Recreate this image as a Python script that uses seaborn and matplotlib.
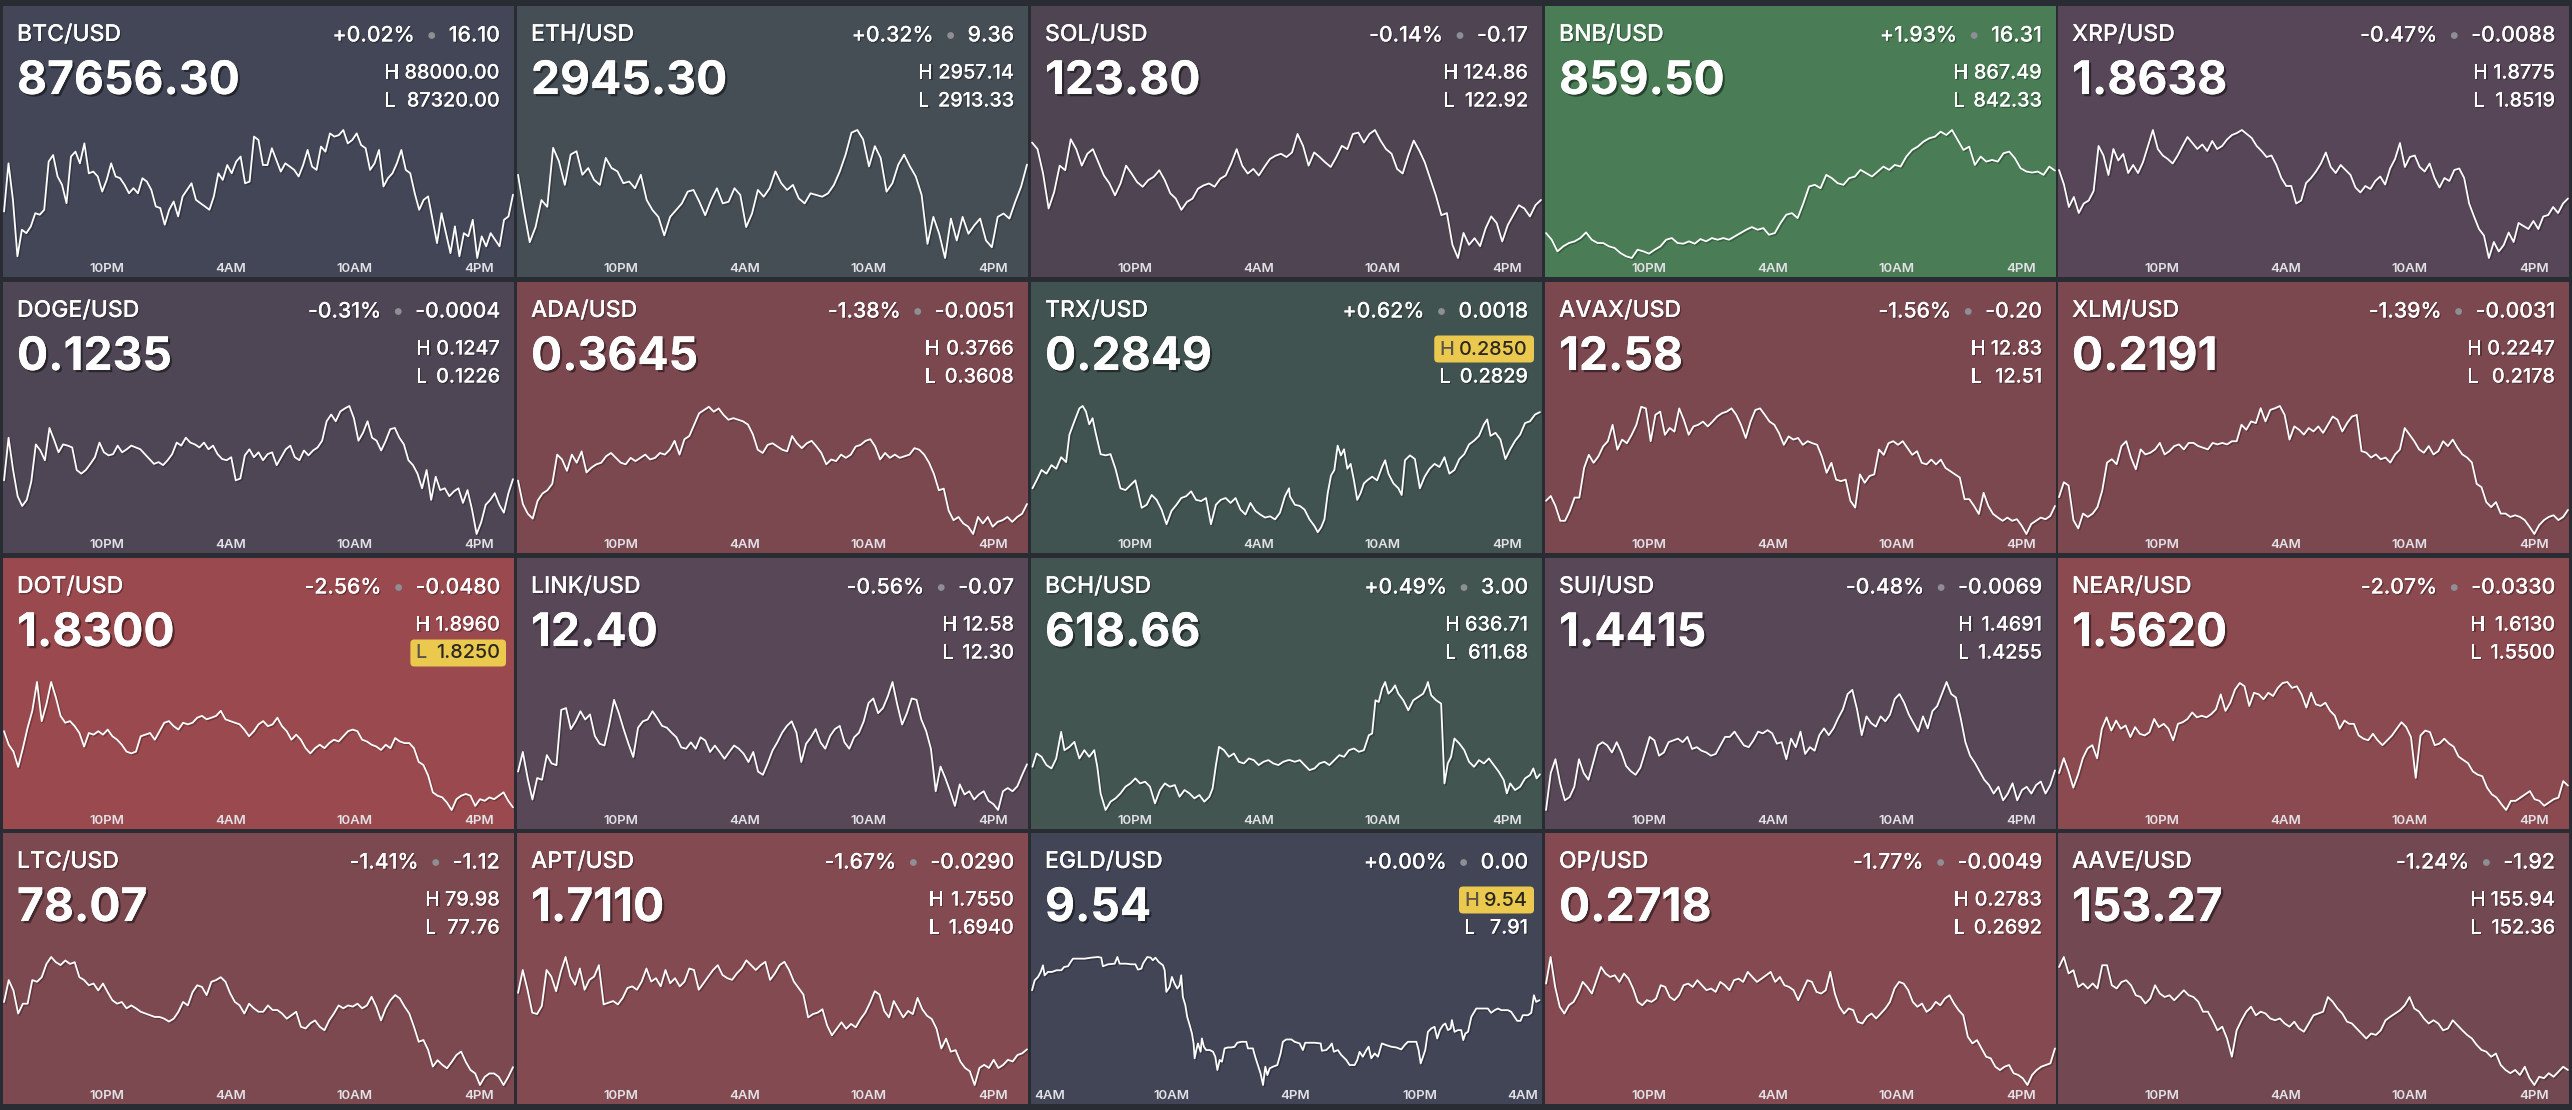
import numpy as np
import pandas as pd
import matplotlib
matplotlib.use("Agg")
import matplotlib.pyplot as plt
import seaborn as sns
from matplotlib import patheffects as pe
from matplotlib.patches import FancyBboxPatch, Circle
from matplotlib.transforms import Affine2D

# ---------------- data ----------------
pairs = ["BTC/USD", "ETH/USD", "SOL/USD", "BNB/USD", "XRP/USD",
         "DOGE/USD", "ADA/USD", "TRX/USD", "AVAX/USD", "XLM/USD",
         "DOT/USD", "LINK/USD", "BCH/USD", "SUI/USD", "NEAR/USD",
         "LTC/USD", "APT/USD", "EGLD/USD", "OP/USD", "AAVE/USD"]
last_prices = ["87656.30", "2945.30", "123.80", "859.50", "1.8638",
               "0.1235", "0.3645", "0.2849", "12.58", "0.2191",
               "1.8300", "12.40", "618.66", "1.4415", "1.5620",
               "78.07", "1.7110", "9.54", "0.2718", "153.27"]
pct_changes = ["+0.02%", "+0.32%", "-0.14%", "+1.93%", "-0.47%",
               "-0.31%", "-1.38%", "+0.62%", "-1.56%", "-1.39%",
               "-2.56%", "-0.56%", "+0.49%", "-0.48%", "-2.07%",
               "-1.41%", "-1.67%", "+0.00%", "-1.77%", "-1.24%"]
abs_changes = ["16.10", "9.36", "-0.17", "16.31", "-0.0088",
               "-0.0004", "-0.0051", "0.0018", "-0.20", "-0.0031",
               "-0.0480", "-0.07", "3.00", "-0.0069", "-0.0330",
               "-1.12", "-0.0290", "0.00", "-0.0049", "-1.92"]
highs = ["88000.00", "2957.14", "124.86", "867.49", "1.8775",
         "0.1247", "0.3766", "0.2850", "12.83", "0.2247",
         "1.8960", "12.58", "636.71", "1.4691", "1.6130",
         "79.98", "1.7550", "9.54", "0.2783", "155.94"]
lows = ["87320.00", "2913.33", "122.92", "842.33", "1.8519",
        "0.1226", "0.3608", "0.2829", "12.51", "0.2178",
        "1.8250", "12.30", "611.68", "1.4255", "1.5500",
        "77.76", "1.6940", "7.91", "0.2692", "152.36"]

tick_hours_std = [22, 28, 34, 40]
tick_labels_std = ["10PM", "4AM", "10AM", "4PM"]
tick_hours_egld = [4, 10, 16, 22, 28]
tick_labels_egld = ["4AM", "10AM", "4PM", "10PM", "4AM"]
window_std = (16.97, 41.7)
window_egld = (3.2, 27.93)

btc = [87567, 87823, 87629, 87329, 87470, 87452, 87488, 87558, 87550, 87576, 87832, 87867, 87753, 87709,
       87611, 87859, 87885, 87823, 87929, 87770, 87779, 87753, 87673, 87735, 87823, 87753, 87744, 87709,
       87664, 87691, 87664, 87744, 87726, 87682, 87594, 87585, 87497, 87576, 87620, 87541, 87647, 87682,
       87717, 87629, 87611, 87594, 87576, 87647, 87770, 87735, 87814, 87770, 87832, 87859, 87717, 87726,
       87965, 87947, 87814, 87814, 87903, 87841, 87779, 87823, 87806, 87788, 87753, 87814, 87894, 87806,
       87788, 87912, 87885, 87982, 87965, 87973, 88000, 87929, 87947, 87982, 87920, 87903, 87788, 87823,
       87894, 87700, 87744, 87770, 87823, 87894, 87788, 87770, 87664, 87576, 87629, 87647, 87523, 87399,
       87558, 87452, 87346, 87488, 87329, 87452, 87435, 87523, 87320, 87435, 87382, 87452, 87417, 87382,
       87523, 87541, 87656.3]
eth = [2941.81, 2929.70, 2918.75, 2923.94, 2933.16, 2930.86, 2951.03, 2946.42, 2938.35, 2948.73, 2949.88,
       2941.81, 2944.12, 2940.08, 2938.35, 2947.57, 2944.12, 2942.96, 2938.93, 2939.50, 2937.20, 2941.81,
       2933.16, 2929.70, 2927.40, 2921.06, 2927.40, 2929.70, 2932.01, 2936.04, 2936.62, 2932.59, 2927.97,
       2933.16, 2937.20, 2932.01, 2932.59, 2937.20, 2934.89, 2923.94, 2928.55, 2936.62, 2934.31, 2937.20,
       2942.96, 2938.93, 2936.62, 2938.35, 2933.74, 2932.01, 2935.47, 2934.89, 2934.31, 2935.47, 2938.35,
       2942.96, 2948.73, 2956.22, 2957.14, 2953.92, 2944.69, 2951.61, 2947.57, 2936.04, 2938.93, 2945.27,
       2948.73, 2944.69, 2941.23, 2934.89, 2918.17, 2927.40, 2921.63, 2913.33, 2926.82, 2919.33, 2927.40,
       2921.63, 2924.51, 2926.82, 2919.33, 2917.02, 2927.40, 2928.55, 2926.82, 2932.59, 2937.77, 2945.30]
sol = [124.67, 124.57, 124.20, 123.67, 123.92, 124.32, 124.25, 124.72, 124.57, 124.32, 124.50, 124.57,
       124.37, 124.17, 124.05, 123.87, 124.05, 124.32, 124.20, 124.07, 124.00, 124.10, 124.15, 124.25,
       124.10, 123.90, 123.82, 123.65, 123.77, 123.82, 123.97, 124.02, 124.05, 124.00, 124.12, 124.17,
       124.35, 124.57, 124.32, 124.20, 124.27, 124.17, 124.30, 124.42, 124.47, 124.50,
       124.45, 124.52, 124.80, 124.62, 124.32, 124.52, 124.45, 124.37, 124.30, 124.45, 124.62, 124.57,
       124.80, 124.82, 124.67, 124.80, 124.86, 124.70, 124.57, 124.50, 124.27, 124.20, 124.47, 124.70,
       124.55, 124.37, 124.12, 123.87, 123.57, 123.60, 123.12, 122.92, 123.30, 123.12, 123.22, 123.10,
       123.37, 123.55, 123.45, 123.17, 123.42, 123.57, 123.72, 123.67, 123.55, 123.72, 123.80]
bnb = [847.23, 845.92, 843.64, 844.62, 845.27, 845.60, 846.25, 847.36, 845.92, 845.27, 845.27, 844.62,
       844.29, 843.31, 842.66, 842.33, 843.96, 843.64, 843.18, 843.96, 844.62, 845.92, 846.25, 845.27,
       845.14, 845.60, 845.14, 846.05, 845.60, 846.25, 845.92, 846.25, 845.92, 846.58, 847.23, 847.88,
       848.41, 847.88, 848.21, 846.90, 847.23, 849.19, 850.83, 851.15, 850.17, 853.11, 856.38, 856.71,
       856.05, 858.67, 858.01, 857.03, 856.71, 858.01, 858.34, 859.65, 858.99, 858.34, 859.32, 860.30,
       859.65, 860.63, 860.30, 862.26, 863.57, 864.22, 865.20, 865.86, 866.18, 867.16, 866.51, 867.49,
       865.53, 863.57, 864.22, 860.63, 862.26, 861.28, 861.61, 861.28, 862.92, 863.24, 861.94, 859.97,
       859.32, 859.12, 859.32, 858.67, 860.30, 859.50]
xrp = [1.8695, 1.8666, 1.8621, 1.8641, 1.8609, 1.8628, 1.8634, 1.8653, 1.8743, 1.8724, 1.8685, 1.8737,
       1.8714, 1.8727, 1.8689, 1.8705, 1.8689, 1.8711, 1.8743, 1.8775, 1.8737, 1.8724, 1.8717, 1.8708,
       1.8724, 1.8743, 1.8761, 1.8749, 1.8737, 1.8746, 1.8733, 1.8753, 1.8737, 1.8743, 1.8756, 1.8765,
       1.8769, 1.8775, 1.8767, 1.8759, 1.8743, 1.8733, 1.8721, 1.8724, 1.8705, 1.8679, 1.8663, 1.8663,
       1.8628, 1.8634, 1.8669, 1.8679, 1.8692, 1.8708, 1.8730, 1.8701, 1.8689, 1.8705, 1.8695, 1.8685,
       1.8660, 1.8650, 1.8663, 1.8657, 1.8673, 1.8682, 1.8666, 1.8698, 1.8717, 1.8749, 1.8701, 1.8721,
       1.8724, 1.8701, 1.8692, 1.8708, 1.8679, 1.8660, 1.8679, 1.8673, 1.8695, 1.8698, 1.8679, 1.8628,
       1.8602, 1.8577, 1.8564, 1.8519, 1.8551, 1.8532, 1.8545, 1.8570, 1.8551, 1.8589, 1.8583, 1.8577,
       1.8593, 1.8577, 1.8602, 1.8605, 1.8621, 1.8609, 1.8628, 1.8638]
doge = [0.12348, 0.12418, 0.12365, 0.12322, 0.12306, 0.12316, 0.12346, 0.12407, 0.12397, 0.12381, 0.12434,
        0.12415, 0.12394, 0.12407, 0.12405, 0.12402, 0.12365, 0.12359, 0.12365, 0.12375, 0.12386, 0.12410,
        0.12394, 0.12389, 0.12391, 0.12405, 0.12394, 0.12399, 0.12405, 0.12402, 0.12399, 0.12391, 0.12383,
        0.12375, 0.12378, 0.12373, 0.12381, 0.12391, 0.12410, 0.12405, 0.12418, 0.12410, 0.12407, 0.12402,
        0.12410, 0.12399, 0.12405, 0.12391, 0.12383, 0.12381, 0.12386, 0.12348, 0.12351, 0.12389, 0.12399,
        0.12386, 0.12394, 0.12381, 0.12391, 0.12394, 0.12373, 0.12386, 0.12399, 0.12405, 0.12386, 0.12381,
        0.12397, 0.12389, 0.12397, 0.12402, 0.12413, 0.12445, 0.12456, 0.12445, 0.12461, 0.12466, 0.12470,
        0.12450, 0.12413, 0.12426, 0.12445, 0.12418, 0.12413, 0.12397, 0.12413, 0.12432, 0.12434, 0.12418,
        0.12407, 0.12381, 0.12373, 0.12359, 0.12335, 0.12365, 0.12316, 0.12354, 0.12332, 0.12335, 0.12322,
        0.12330, 0.12335, 0.12311, 0.12332, 0.12300, 0.12260, 0.12279, 0.12308, 0.12316, 0.12327, 0.12308,
        0.12295, 0.12327, 0.12350]
ada = [0.3674, 0.3645, 0.3633, 0.3627, 0.3649, 0.3658, 0.3662, 0.3670, 0.3706, 0.3700, 0.3686, 0.3706,
       0.3696, 0.3710, 0.3684, 0.3690, 0.3694, 0.3696, 0.3704, 0.3708, 0.3702, 0.3696, 0.3694, 0.3702,
       0.3698, 0.3702, 0.3706, 0.3700, 0.3702, 0.3708, 0.3706, 0.3712, 0.3723, 0.3706, 0.3725, 0.3729,
       0.3743, 0.3757, 0.3761, 0.3765, 0.3759, 0.3763, 0.3755, 0.3749, 0.3751, 0.3749, 0.3747, 0.3743,
       0.3731, 0.3712, 0.3708, 0.3718, 0.3720, 0.3716, 0.3712, 0.3710, 0.3729, 0.3720, 0.3714, 0.3720,
       0.3723, 0.3716, 0.3708, 0.3694, 0.3700, 0.3698, 0.3706, 0.3702, 0.3706, 0.3716, 0.3718, 0.3723,
       0.3725, 0.3716, 0.3700, 0.3708, 0.3702, 0.3706, 0.3702, 0.3704, 0.3706, 0.3714, 0.3712, 0.3706,
       0.3696, 0.3682, 0.3662, 0.3664, 0.3637, 0.3625, 0.3629, 0.3621, 0.3617, 0.3608, 0.3629, 0.3621,
       0.3629, 0.3617, 0.3623, 0.3625, 0.3629, 0.3623, 0.3629, 0.3633, 0.3645]
trx_hours = [17.04, 17.24, 17.48, 17.72, 17.96, 18.19, 18.43, 18.67, 18.83, 19.07,
             19.31, 19.47, 19.63, 19.79, 19.95, 20.10, 20.34, 20.58, 20.82, 21.06,
             21.30, 21.54, 21.78, 22.02, 22.17, 22.33, 22.57, 22.81, 23.05, 23.29,
             23.53, 23.77, 24.01, 24.24, 24.48, 24.72, 24.96, 25.20, 25.44, 25.68,
             25.92, 26.15, 26.39, 26.63, 26.87, 27.11, 27.35, 27.59, 27.83, 28.06,
             28.30, 28.54, 28.78, 29.02, 29.26, 29.46,
             29.50, 29.74, 29.98, 30.21, 30.45, 30.69, 30.85, 31.01, 31.17, 31.33,
             31.49, 31.65, 31.81, 31.97, 32.12, 32.28, 32.44, 32.60, 32.76, 32.92,
             33.08, 33.24, 33.48, 33.72, 33.96, 34.11, 34.27, 34.51, 34.75, 34.91,
             35.07, 35.31, 35.55, 35.79, 36.02, 36.26, 36.50, 36.74, 36.98, 37.22,
             37.46, 37.70, 37.94, 38.17, 38.41, 38.65, 38.89, 39.05, 39.21, 39.45,
             39.69, 39.93, 40.16, 40.40, 40.64, 40.88, 41.12, 41.36, 41.60]
trx = [0.28365, 0.28378, 0.28395, 0.28389, 0.28403, 0.28397, 0.28416, 0.28408, 0.28453, 0.28475,
       0.28496, 0.28500, 0.28491, 0.28470, 0.28480, 0.28456, 0.28421, 0.28419, 0.28421, 0.28397,
       0.28365, 0.28362, 0.28370, 0.28378, 0.28357, 0.28333, 0.28338, 0.28354, 0.28346, 0.28330,
       0.28306, 0.28328, 0.28338, 0.28349, 0.28352, 0.28360, 0.28346, 0.28344, 0.28349, 0.28306,
       0.28338, 0.28346, 0.28349, 0.28341, 0.28349, 0.28330, 0.28322, 0.28341, 0.28328, 0.28322,
       0.28317, 0.28319, 0.28314, 0.28325, 0.28352, 0.28365,
       0.28352, 0.28338, 0.28336, 0.28330, 0.28314, 0.28303, 0.28293, 0.28301, 0.28314, 0.28357,
       0.28386, 0.28395, 0.28435, 0.28419, 0.28429, 0.28397, 0.28405, 0.28378, 0.28346, 0.28357,
       0.28373, 0.28378, 0.28384, 0.28378, 0.28400, 0.28411, 0.28389, 0.28373, 0.28365, 0.28354,
       0.28411, 0.28419, 0.28413, 0.28365, 0.28384, 0.28397, 0.28405, 0.28400, 0.28416, 0.28389,
       0.28395, 0.28413, 0.28421, 0.28437, 0.28443, 0.28451, 0.28470, 0.28478, 0.28451, 0.28456,
       0.28445, 0.28413, 0.28429, 0.28443, 0.28453, 0.28472, 0.28475, 0.28486, 0.28490]
avax = [12.593, 12.605, 12.580, 12.543, 12.543, 12.568, 12.601, 12.601, 12.675, 12.708, 12.688, 12.704,
        12.729, 12.742, 12.783, 12.721, 12.746, 12.737, 12.758, 12.783, 12.828, 12.824, 12.742, 12.808,
        12.816, 12.758, 12.775, 12.766, 12.824, 12.795, 12.758, 12.779, 12.783, 12.791, 12.779, 12.791,
        12.804, 12.812, 12.816, 12.824, 12.808, 12.783, 12.750, 12.791, 12.820, 12.824, 12.808, 12.791,
        12.783, 12.762, 12.733, 12.754, 12.746, 12.750, 12.733, 12.742, 12.737, 12.733, 12.704, 12.663,
        12.688, 12.646, 12.642, 12.646, 12.593, 12.576, 12.659, 12.638, 12.655, 12.659, 12.721, 12.708,
        12.737, 12.742, 12.733, 12.742, 12.725, 12.708, 12.717, 12.688, 12.684, 12.696, 12.684, 12.696,
        12.675, 12.667, 12.659, 12.651, 12.597, 12.597, 12.580, 12.560, 12.613, 12.580, 12.560, 12.551,
        12.543, 12.551, 12.543, 12.547, 12.531, 12.510, 12.535, 12.543, 12.551, 12.547, 12.555, 12.580]
xlm = [0.21979, 0.22059, 0.22041, 0.21855, 0.21810, 0.21890, 0.21872, 0.21890, 0.21925, 0.22014, 0.22165,
       0.22183, 0.22156, 0.22254, 0.22280, 0.22192, 0.22129, 0.22236, 0.22209, 0.22218, 0.22236, 0.22271,
       0.22209, 0.22227, 0.22254, 0.22263, 0.22236, 0.22271, 0.22271, 0.22254, 0.22245, 0.22236, 0.22271,
       0.22263, 0.22271, 0.22263, 0.22280, 0.22280, 0.22369, 0.22342, 0.22387, 0.22378, 0.22458, 0.22387,
       0.22449, 0.22458, 0.22470, 0.22422, 0.22289, 0.22360, 0.22342, 0.22316, 0.22351, 0.22333, 0.22360,
       0.22325, 0.22369, 0.22413, 0.22396, 0.22333, 0.22378, 0.22413, 0.22422, 0.22227, 0.22218, 0.22192,
       0.22209, 0.22183, 0.22192, 0.22165, 0.22209, 0.22236, 0.22351, 0.22316, 0.22280, 0.22236, 0.22218,
       0.22254, 0.22209, 0.22227, 0.22280, 0.22254, 0.22289, 0.22245, 0.22209, 0.22192, 0.22165, 0.22050,
       0.22032, 0.21952, 0.21925, 0.21952, 0.21890, 0.21890, 0.21872, 0.21881, 0.21872, 0.21855, 0.21819,
       0.21780, 0.21828, 0.21855, 0.21872, 0.21881, 0.21855, 0.21872, 0.21910]
dot = [1.8687, 1.8612, 1.8574, 1.8489, 1.8593, 1.8706, 1.8800, 1.8960, 1.8743, 1.8837, 1.8960, 1.8875,
       1.8772, 1.8734, 1.8743, 1.8715, 1.8677, 1.8602, 1.8677, 1.8668, 1.8687, 1.8668, 1.8696, 1.8659,
       1.8640, 1.8612, 1.8574, 1.8564, 1.8574, 1.8659, 1.8668, 1.8677, 1.8640, 1.8687, 1.8734, 1.8743,
       1.8715, 1.8696, 1.8734, 1.8725, 1.8734, 1.8762, 1.8772, 1.8753, 1.8762, 1.8772, 1.8800, 1.8753,
       1.8743, 1.8734, 1.8725, 1.8696, 1.8659, 1.8687, 1.8725, 1.8743, 1.8715, 1.8725, 1.8762, 1.8715,
       1.8687, 1.8640, 1.8668, 1.8640, 1.8593, 1.8564, 1.8593, 1.8612, 1.8593, 1.8621, 1.8640, 1.8630,
       1.8659, 1.8687, 1.8696, 1.8687, 1.8640, 1.8630, 1.8612, 1.8602, 1.8583, 1.8612, 1.8593, 1.8649,
       1.8630, 1.8621, 1.8621, 1.8593, 1.8517, 1.8499, 1.8442, 1.8348, 1.8329, 1.8320, 1.8291, 1.8250,
       1.8310, 1.8329, 1.8339, 1.8329, 1.8273, 1.8310, 1.8301, 1.8320, 1.8310, 1.8329, 1.8348, 1.8301,
       1.8265]
link = [12.384, 12.427, 12.370, 12.323, 12.370, 12.366, 12.420, 12.402, 12.398, 12.519, 12.523, 12.477,
        12.494, 12.516, 12.498, 12.509, 12.462, 12.445, 12.441, 12.487, 12.541, 12.512, 12.477, 12.445,
        12.416, 12.480, 12.494, 12.498, 12.516, 12.501, 12.484, 12.480, 12.469, 12.459, 12.437, 12.434,
        12.448, 12.434, 12.459, 12.452, 12.427, 12.441, 12.427, 12.412, 12.427, 12.441, 12.434, 12.423,
        12.405, 12.427, 12.384, 12.377, 12.402, 12.430, 12.448, 12.469, 12.484, 12.494, 12.469, 12.405,
        12.445, 12.459, 12.477, 12.448, 12.434, 12.462, 12.477, 12.484, 12.448, 12.434, 12.459, 12.469,
        12.494, 12.534, 12.544, 12.512, 12.523, 12.548, 12.580, 12.530, 12.487, 12.512, 12.544, 12.541,
        12.498, 12.473, 12.434, 12.341, 12.395, 12.370, 12.341, 12.309, 12.356, 12.334, 12.341, 12.323,
        12.334, 12.341, 12.320, 12.313, 12.300, 12.341, 12.348, 12.341, 12.352, 12.377, 12.400]
bch_hours = [17.04, 17.24, 17.48, 17.72, 17.96, 18.19, 18.43, 18.59, 18.83, 19.07,
             19.31, 19.55, 19.79, 20.03, 20.18, 20.34, 20.58, 20.82, 21.06, 21.30,
             21.54, 21.78, 22.02, 22.25, 22.49, 22.73, 22.97, 23.21, 23.45, 23.69,
             23.93, 24.16, 24.40, 24.64, 24.88, 25.12, 25.36, 25.60, 25.76, 25.92,
             26.07, 26.31, 26.55, 26.79, 27.03, 27.27, 27.51, 27.75, 27.99, 28.22,
             28.46, 28.70, 28.94, 29.18, 29.42,
             29.50, 29.74, 29.98, 30.21, 30.45, 30.69, 30.93, 31.17, 31.41, 31.65,
             31.89, 32.12, 32.36, 32.60, 32.84, 33.08, 33.32, 33.48, 33.64, 33.80,
             33.96, 34.11, 34.27, 34.43, 34.59, 34.75, 34.99, 35.23, 35.47, 35.71,
             35.95, 36.10, 36.18, 36.34, 36.58, 36.82, 36.90, 36.98, 37.14, 37.30,
             37.46, 37.70, 37.94, 38.17, 38.41, 38.65, 38.89, 39.13, 39.37, 39.61,
             39.85, 40.00, 40.16, 40.40, 40.64, 40.88, 41.12, 41.28, 41.44, 41.60]
bch = [620.13, 622.73, 622.08, 620.46, 619.81, 621.76, 626.96, 623.38, 624.03, 625.01,
       621.76, 623.38, 622.08, 623.38, 620.13, 614.93, 611.68, 613.31, 613.96, 614.93,
       616.23, 616.88, 617.86, 616.88, 617.21, 616.23, 612.98, 615.58, 616.88, 616.23,
       616.56, 614.28, 615.58, 614.93, 613.96, 614.61, 613.31, 614.28, 615.91, 620.46,
       624.03, 623.38, 622.08, 622.73, 621.11, 620.78, 621.76, 621.43, 620.46, 621.11,
       621.43, 620.78, 620.46, 621.11, 621.43,
       621.43, 621.11, 621.43, 620.46, 619.48, 619.81, 620.78, 621.11, 620.46, 621.43,
       622.41, 622.08, 623.38, 623.71, 623.06, 623.38, 626.31, 626.63, 633.13, 632.81,
       635.41, 636.71, 634.43, 635.08, 636.06, 634.43, 633.13, 631.18, 633.13, 633.78,
       634.43, 635.73, 636.71, 634.11, 633.13, 632.48, 624.68, 616.88, 620.78, 622.08,
       625.66, 624.68, 623.38, 621.11, 620.13, 621.43, 620.78, 621.76, 620.46, 619.16,
       617.53, 614.93, 616.88, 615.58, 616.23, 617.86, 618.51, 619.81, 617.86, 618.66]
sui = [1.4255, 1.4381, 1.4428, 1.4346, 1.4288, 1.4299, 1.4334, 1.4428, 1.4381, 1.4358, 1.4416, 1.4475,
       1.4486, 1.4475, 1.4451, 1.4486, 1.4451, 1.4405, 1.4387, 1.4375, 1.4399, 1.4451, 1.4504, 1.4492,
       1.4440, 1.4451, 1.4486, 1.4492, 1.4498, 1.4486, 1.4504, 1.4463, 1.4469, 1.4457, 1.4451, 1.4440,
       1.4446, 1.4475, 1.4504, 1.4504, 1.4522, 1.4498, 1.4475, 1.4469, 1.4492, 1.4522, 1.4516, 1.4527,
       1.4516, 1.4481, 1.4486, 1.4428, 1.4498, 1.4469, 1.4522, 1.4446, 1.4469, 1.4457, 1.4510, 1.4533,
       1.4510, 1.4533, 1.4568, 1.4598, 1.4650, 1.4664, 1.4598, 1.4510, 1.4574, 1.4551, 1.4539, 1.4574,
       1.4557, 1.4580, 1.4633, 1.4650, 1.4621, 1.4580, 1.4551, 1.4522, 1.4574, 1.4533, 1.4592, 1.4609,
       1.4650, 1.4691, 1.4650, 1.4638, 1.4568, 1.4486, 1.4440, 1.4416, 1.4387, 1.4358, 1.4340, 1.4311,
       1.4334, 1.4288, 1.4311, 1.4346, 1.4288, 1.4323, 1.4334, 1.4311, 1.4340, 1.4352, 1.4311, 1.4340,
       1.4390]
near = [1.5682, 1.5755, 1.5690, 1.5610, 1.5674, 1.5755, 1.5803, 1.5819, 1.5755, 1.5900, 1.5956, 1.5891,
        1.5940, 1.5900, 1.5916, 1.5859, 1.5908, 1.5875, 1.5867, 1.5883, 1.5948, 1.5908, 1.5924, 1.5900,
        1.5843, 1.5924, 1.5932, 1.5948, 1.5980, 1.5956, 1.5964, 1.5956, 1.5972, 1.5996, 1.6069, 1.5988,
        1.6028, 1.6093, 1.6125, 1.6109, 1.6012, 1.6077, 1.6069, 1.6045, 1.6077, 1.6061, 1.6101, 1.6125,
        1.6130, 1.6101, 1.6109, 1.6069, 1.6004, 1.6077, 1.6020, 1.6012, 1.6028, 1.5988, 1.5964, 1.5900,
        1.5940, 1.5924, 1.5924, 1.5867, 1.5851, 1.5843, 1.5875, 1.5843, 1.5819, 1.5843, 1.5867, 1.5900,
        1.5932, 1.5908, 1.5859, 1.5658, 1.5867, 1.5891, 1.5883, 1.5819, 1.5827, 1.5851, 1.5827, 1.5811,
        1.5763, 1.5746, 1.5730, 1.5690, 1.5674, 1.5666, 1.5610, 1.5577, 1.5561, 1.5529, 1.5500, 1.5545,
        1.5545, 1.5561, 1.5577, 1.5593, 1.5553, 1.5545, 1.5521, 1.5537, 1.5553, 1.5561, 1.5642, 1.5620]
ltc = [79.20, 79.58, 79.40, 79.00, 79.17, 79.17, 79.58, 79.55, 79.63, 79.86, 79.98, 79.89, 79.84, 79.92,
       79.86, 79.89, 79.63, 79.58, 79.49, 79.52, 79.40, 79.52, 79.37, 79.23, 79.17, 79.20, 79.09, 79.14,
       79.09, 79.03, 79.00, 78.97, 78.94, 78.94, 78.91, 78.86, 78.91, 79.03, 79.20, 79.14, 79.37, 79.49,
       79.46, 79.32, 79.55, 79.58, 79.63, 79.55, 79.35, 79.20, 79.14, 79.00, 79.17, 79.09, 79.03, 79.03,
       79.14, 79.06, 79.06, 79.00, 78.91, 78.97, 79.03, 78.77, 78.74, 78.83, 78.88, 78.77, 78.71, 78.88,
       79.00, 79.14, 79.09, 79.14, 79.12, 79.17, 79.09, 79.14, 79.29, 79.12, 78.88, 79.09, 79.23, 79.32,
       79.26, 79.12, 79.00, 78.77, 78.51, 78.54, 78.37, 78.08, 78.19, 78.11, 78.05, 78.16, 78.28, 78.34,
       78.16, 78.02, 77.96, 77.76, 77.90, 77.96, 77.96, 77.90, 77.76, 77.90, 78.07]
apt = [1.7379, 1.7488, 1.7394, 1.7285, 1.7278, 1.7317, 1.7488, 1.7457, 1.7387, 1.7480, 1.7550, 1.7457,
       1.7418, 1.7495, 1.7394, 1.7441, 1.7457, 1.7511, 1.7324, 1.7332, 1.7340, 1.7324, 1.7355, 1.7402,
       1.7410, 1.7394, 1.7433, 1.7495, 1.7433, 1.7449, 1.7410, 1.7488, 1.7425, 1.7449, 1.7410, 1.7433,
       1.7495, 1.7488, 1.7394, 1.7425, 1.7457, 1.7488, 1.7511, 1.7464, 1.7449, 1.7441, 1.7472, 1.7495,
       1.7534, 1.7511, 1.7488, 1.7511, 1.7527, 1.7441, 1.7472, 1.7511, 1.7527, 1.7488, 1.7433, 1.7402,
       1.7371, 1.7262, 1.7278, 1.7285, 1.7301, 1.7223, 1.7177, 1.7208, 1.7239, 1.7208, 1.7231, 1.7215,
       1.7254, 1.7285, 1.7332, 1.7387, 1.7371, 1.7293, 1.7262, 1.7340, 1.7301, 1.7262, 1.7293, 1.7278,
       1.7355, 1.7301, 1.7270, 1.7254, 1.7208, 1.7114, 1.7161, 1.7099, 1.7106, 1.7052, 1.7021, 1.7005,
       1.6940, 1.7021, 1.7036, 1.7021, 1.7060, 1.7021, 1.7036, 1.7060, 1.7052, 1.7083, 1.7091, 1.7110]
egld_hours = [3.25, 3.38, 3.54, 3.67, 3.78, 3.86, 4.02, 4.22, 4.43, 4.67,
              4.80, 4.99, 5.12, 5.23, 5.47, 5.80, 6.12, 6.44, 6.60, 6.68,
              6.93, 7.25, 7.38, 7.49, 7.81, 8.05, 8.25, 8.38, 8.54, 8.62,
              8.70, 8.83, 8.99, 9.10, 9.22, 9.38, 9.59, 9.67, 9.75, 9.91,
              10.02, 10.15, 10.28, 10.39, 10.47, 10.55, 10.67, 10.76, 10.88, 10.99,
              11.07, 11.12, 11.20, 11.28, 11.41, 11.47, 11.57, 11.68, 11.85, 12.01,
              12.12, 12.22, 12.33, 12.44, 12.57, 12.73, 12.89, 13.05, 13.18, 13.38,
              13.62, 13.70, 13.94, 14.05, 14.18, 14.31, 14.43, 14.54, 14.64, 14.75,
              14.91, 15.12, 15.28, 15.39, 15.55, 15.80, 15.96, 16.20, 16.36, 16.47,
              16.68, 16.93, 17.22, 17.28, 17.49, 17.65, 17.76, 17.86, 18.05, 18.22,
              18.46, 18.62, 18.86, 18.99, 19.10, 19.26, 19.43, 19.54, 19.67, 19.83,
              19.99, 20.18, 20.39, 20.64, 20.88, 21.12, 21.28, 21.44, 21.85, 21.96,
              22.06, 22.17, 22.28, 22.41, 22.57, 22.73, 22.86, 22.99, 23.14, 23.25,
              23.38, 23.51, 23.57, 23.70, 23.86, 24.02, 24.12, 24.22, 24.35, 24.51,
              24.75, 24.99, 25.31, 25.47, 25.64, 25.80, 25.96, 26.28, 26.44, 26.60,
              26.73, 26.89, 27.00, 27.25, 27.41, 27.54, 27.65, 27.81]
egld = [9.117, 9.244, 9.286, 9.350, 9.434, 9.307, 9.350, 9.350, 9.371, 9.371,
        9.413, 9.422, 9.477, 9.519, 9.519, 9.519, 9.532, 9.540, 9.532, 9.422,
        9.447, 9.455, 9.540, 9.455, 9.455, 9.447, 9.447, 9.379, 9.392, 9.455,
        9.489, 9.540, 9.532, 9.498, 9.532, 9.477, 9.434, 9.371, 9.096, 9.159,
        9.286, 9.201, 9.138, 9.180, 9.307, 9.032, 8.926, 8.778, 8.672, 8.566,
        8.439, 8.249, 8.355, 8.439, 8.333, 8.503, 8.397, 8.355, 8.355, 8.333,
        8.270, 8.101, 8.228, 8.206, 8.376, 8.388, 8.388, 8.397, 8.448, 8.460,
        8.460, 8.376, 8.376, 8.270, 8.164, 8.058, 7.910, 8.143, 8.037, 8.122,
        8.143, 8.164, 8.312, 8.460, 8.490, 8.490, 8.460, 8.439, 8.355, 8.448,
        8.448, 8.448, 8.439, 8.346, 8.355, 8.397, 8.439, 8.333, 8.355, 8.291,
        8.228, 8.164, 8.164, 8.228, 8.333, 8.270, 8.355, 8.397, 8.249, 8.312,
        8.270, 8.439, 8.418, 8.397, 8.388, 8.363, 8.418, 8.460, 8.460, 8.355,
        8.185, 8.270, 8.355, 8.587, 8.630, 8.651, 8.503, 8.609, 8.672, 8.693,
        8.609, 8.630, 8.736, 8.587, 8.609, 8.609, 8.482, 8.566, 8.587, 8.778,
        8.884, 8.884, 8.884, 8.829, 8.863, 8.884, 8.863, 8.863, 8.841, 8.778,
        8.727, 8.727, 8.799, 8.799, 8.829, 9.053, 8.969, 8.990]
op = [0.27641, 0.27830, 0.27617, 0.27476, 0.27428, 0.27487, 0.27511, 0.27570, 0.27653, 0.27617, 0.27570,
      0.27665, 0.27759, 0.27712, 0.27688, 0.27700, 0.27653, 0.27712, 0.27676, 0.27606, 0.27511, 0.27487,
      0.27523, 0.27511, 0.27535, 0.27629, 0.27617, 0.27546, 0.27523, 0.27558, 0.27629, 0.27641, 0.27617,
      0.27665, 0.27629, 0.27594, 0.27606, 0.27582, 0.27653, 0.27629, 0.27594, 0.27665, 0.27676, 0.27653,
      0.27724, 0.27688, 0.27653, 0.27676, 0.27700, 0.27724, 0.27653, 0.27688, 0.27629, 0.27617, 0.27594,
      0.27523, 0.27594, 0.27665, 0.27653, 0.27582, 0.27570, 0.27594, 0.27724, 0.27570, 0.27476, 0.27428,
      0.27464, 0.27452, 0.27369, 0.27357, 0.27405, 0.27428, 0.27393, 0.27428, 0.27464, 0.27511, 0.27606,
      0.27653, 0.27641, 0.27594, 0.27511, 0.27476, 0.27499, 0.27440, 0.27464, 0.27511, 0.27487, 0.27535,
      0.27558, 0.27499, 0.27452, 0.27416, 0.27263, 0.27216, 0.27239, 0.27180, 0.27121, 0.27109, 0.27050,
      0.27026, 0.27050, 0.27062, 0.27003, 0.26991, 0.26967, 0.26920, 0.26991, 0.27026, 0.27050, 0.27062,
      0.27074, 0.27180]
aave = [155.66, 155.94, 155.48, 155.57, 155.10, 155.20, 155.06, 155.20, 155.06, 155.71, 155.71, 155.15,
        155.06, 155.24, 155.29, 155.15, 154.87, 154.82, 154.64, 154.78, 155.15, 154.92, 154.82, 154.87,
        154.73, 154.87, 155.01, 154.87, 154.82, 154.69, 154.41, 154.41, 154.17, 153.89, 153.99, 153.66,
        153.15, 153.89, 154.17, 154.41, 154.55, 154.31, 154.41, 154.36, 154.22, 154.17, 154.22, 154.08,
        153.99, 154.13, 153.94, 153.85, 154.08, 154.31, 154.36, 154.41, 154.82, 154.69, 154.50, 154.36,
        154.13, 154.08, 153.94, 153.80, 153.66, 153.80, 153.76, 153.89, 154.17, 154.27, 154.36, 154.45,
        154.59, 154.82, 154.50, 154.41, 154.22, 154.08, 154.17, 154.08, 153.89, 153.94, 154.17, 154.03,
        153.89, 153.76, 153.66, 153.48, 153.34, 153.29, 153.15, 153.24, 152.92, 152.78, 152.69, 152.78,
        152.64, 152.87, 152.55, 152.36, 152.59, 152.55, 152.69, 152.59, 152.73, 152.87, 152.78]

series = [btc, eth, sol, bnb, xrp, doge, ada, trx, avax, xlm,
          dot, link, bch, sui, near, ltc, apt, egld, op, aave]
explicit_hours = {"TRX/USD": trx_hours, "BCH/USD": bch_hours, "EGLD/USD": egld_hours}

# ---------------- style ----------------
panel_colors = ["#434656", "#454d55", "#4f4452", "#4a7d56", "#564657",
                "#4e4655", "#7c4850", "#415350", "#7c4850", "#7c4850",
                "#9a4a4e", "#574757", "#425551", "#574757", "#8b4a50",
                "#7c4950", "#844a51", "#414555", "#854a51", "#724852"]
BG = "#2a2c34"
HILITE = "#ebc84e"

sns.set_theme(style="dark")
plt.rcParams['font.family'] = ['Inter', 'DejaVu Sans']

FW, FH = 2572, 1110
fig = plt.figure(figsize=(FW / 100, FH / 100), dpi=100)
fig.patch.set_facecolor(BG)
renderer = fig.canvas.get_renderer()


def width_px(t):
    return t.get_window_extent(renderer).width


def fit_size(sample, target_px, weight):
    t = fig.text(0, 0, sample, fontsize=10, fontweight=weight)
    w = width_px(t)
    t.remove()
    return 10.0 * target_px / w


FS_NAME = fit_size("BTC/USD", 104, "medium")
FS_CHG = fit_size("+0.02%", 82, "medium")
FS_BIG = fit_size("87656.30", 222, "bold")
FS_HL = fit_size("88000.00", 94, "medium")
FS_TICK = fit_size("10PM", 35, "semibold")

col_x = [3, 517, 1031, 1545, 2058]
row_y = [6, 282, 558, 833]
PW, PH = 511, 271
RPAD = 497

shadow_big = [pe.withSimplePatchShadow(offset=(1.6, -1.6), shadow_rgbFace="#000000", alpha=0.45), pe.Normal()]
shadow_small = [pe.withSimplePatchShadow(offset=(1, -1), shadow_rgbFace="#000000", alpha=0.3), pe.Normal()]
line_fx = [pe.SimpleLineShadow(offset=(1, -1), shadow_color="black", alpha=0.25), pe.Normal()]

for i, pair in enumerate(pairs):
    r, c = divmod(i, 5)
    ax = fig.add_axes([col_x[c] / FW, 1 - (row_y[r] + PH) / FH, PW / FW, PH / FH])
    ax.set_facecolor(panel_colors[i])
    pt = Affine2D().scale(1 / PW, -1 / PH).translate(0, 1) + ax.transAxes   # panel px, y down
    pu = Affine2D().scale(1 / PW, 1 / PH) + ax.transAxes                    # panel px, y up

    vals = series[i]
    if pair == "EGLD/USD":
        t0, t1 = window_egld
        th, tl = tick_hours_egld, tick_labels_egld
    else:
        t0, t1 = window_std
        th, tl = tick_hours_std, tick_labels_std
    if pair in explicit_hours:
        times = explicit_hours[pair]
    else:
        times = np.linspace(t0 + 0.05, t1 - 0.05, len(vals))
    df = pd.DataFrame({"t": times, "v": vals})
    sns.lineplot(data=df, x="t", y="v", ax=ax, color="white", linewidth=1.3,
                 estimator=None, sort=False, path_effects=line_fx, zorder=2)

    hi, lo = float(highs[i]), float(lows[i])
    rng = hi - lo
    ax.set_xlim(t0, t1)
    ax.set_ylim(lo - 0.1484 * rng, lo + 1.9689 * rng)
    ax.set_xlabel("")
    ax.set_ylabel("")
    ax.set_xticks([])
    ax.set_yticks([])
    ax.grid(False)
    for s in ax.spines.values():
        s.set_visible(False)

    # header: pair name
    ax.text(14, 35, pair, transform=pt, ha="left", va="baseline", fontsize=FS_NAME,
            fontweight="medium", color="white", path_effects=shadow_small, zorder=5)
    # change row
    tv = ax.text(RPAD, 35.5, abs_changes[i], transform=pt, ha="right", va="baseline",
                 fontsize=FS_CHG, fontweight="medium", color="white",
                 path_effects=shadow_small, zorder=5)
    wv = width_px(tv)
    ax.add_patch(Circle((RPAD - wv - 17, PH - 29.5), 3.4, transform=pu,
                        facecolor="#8e8e94", edgecolor="none", zorder=5))
    ax.text(RPAD - wv - 34, 35.5, pct_changes[i], transform=pt, ha="right", va="baseline",
            fontsize=FS_CHG, fontweight="medium", color="white",
            path_effects=shadow_small, zorder=5)
    # big price
    ax.text(14, 88, last_prices[i], transform=pt, ha="left", va="baseline", fontsize=FS_BIG,
            fontweight="bold", color="white", path_effects=shadow_big, zorder=5)

    # high / low block
    price = float(last_prices[i])
    hl_mark = None
    if price >= hi - 0.1 * rng:
        hl_mark = "H"
    elif price <= lo + 0.1 * rng:
        hl_mark = "L"
    rows = [("H", highs[i], 72.5), ("L", lows[i], 100.5)]
    vtexts = []
    for lab, val, base in rows:
        vt = ax.text(RPAD, base, val, transform=pt, ha="right", va="baseline", fontsize=FS_HL,
                     fontweight="medium", color="white", zorder=6)
        vtexts.append(vt)
    wmax = max(width_px(v) for v in vtexts)
    lab_x = RPAD - wmax - 20
    for (lab, val, base), vt in zip(rows, vtexts):
        lt = ax.text(lab_x, base, lab, transform=pt, ha="left", va="baseline", fontsize=FS_HL,
                     fontweight="medium", color="white", zorder=6)
        if hl_mark == lab:
            box = FancyBboxPatch((lab_x - 5, PH - (base + 8)), RPAD + 6 - (lab_x - 5), 27,
                                 boxstyle="round,pad=0,rounding_size=4", transform=pu,
                                 facecolor=HILITE, edgecolor="none", zorder=4)
            ax.add_patch(box)
            lt.set_color("#5a5548")
            vt.set_color("#2a2720")
        else:
            lt.set_path_effects(shadow_small)
            vt.set_path_effects(shadow_small)

    # time labels
    for h, lab in zip(th, tl):
        xp = (h - t0) / (t1 - t0) * PW
        tt = ax.text(xp, 266, lab, transform=pt, ha="center", va="baseline", fontsize=FS_TICK,
                     fontweight="semibold", color="#e2e2e6", zorder=5)
        w = width_px(tt)
        if xp - w / 2 < 3:
            tt.set_x(3)
            tt.set_ha("left")
        elif xp + w / 2 > PW - 4:
            tt.set_x(PW - 4)
            tt.set_ha("right")

fig.savefig("out.png", dpi=100, facecolor=fig.get_facecolor())
